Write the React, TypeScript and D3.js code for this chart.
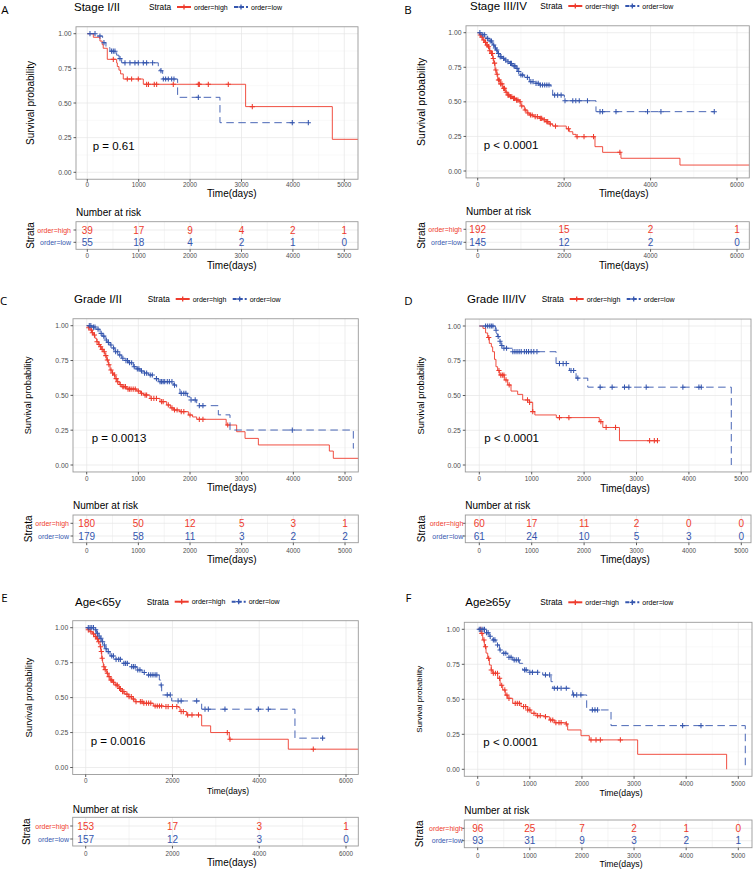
import React from "react";
import * as d3 from "d3";

const RED = "#EE3B2D";
const BLUE = "#3556AE";
const FONT = "'Liberation Sans', Arial, Helvetica, sans-serif";

type Step = [number, number];

// ---- A: Stage I/II ----
const aHighSteps: Step[] = [[0, 1], [117, 0.974], [246, 0.947], [290, 0.921], [310, 0.895], [389, 0.815], [571, 0.789], [584, 0.763], [616, 0.737], [648, 0.71], [700, 0.673], [1090, 0.635], [3080, 0.474], [4767, 0.238]];
const aHighCensor = [506, 778, 862, 992, 1154, 1190, 1303, 1349, 1673, 2160, 2180, 2354, 2743, 3210];
const aLowSteps: Step[] = [[0, 1], [182, 0.983], [298, 0.935], [363, 0.9], [440, 0.874], [571, 0.845], [616, 0.82], [668, 0.79], [1381, 0.762], [1414, 0.733], [1466, 0.673], [1757, 0.541], [2581, 0.358]];
const aLowCensor = [52, 150, 246, 324, 473, 506, 538, 636, 733, 830, 927, 992, 1090, 1154, 1271, 1433, 1479, 1524, 1576, 1641, 1686, 2160, 3988, 4300];
const aRiskTimes = [0, 1000, 2000, 3000, 4000, 5000];
const aRiskHigh = [39, 17, 9, 4, 2, 1];
const aRiskLow = [55, 18, 4, 2, 1, 0];

// ---- B: Stage III/IV ----
const bHighSteps: Step[] = [[0, 1], [40, 0.984], [80, 0.968], [116, 0.947], [160, 0.93], [200, 0.91], [231, 0.899], [270, 0.87], [300, 0.85], [347, 0.814], [370, 0.78], [401, 0.73], [430, 0.7], [463, 0.658], [520, 0.63], [578, 0.598], [640, 0.57], [694, 0.549], [750, 0.537], [810, 0.525], [880, 0.513], [964, 0.501], [1000, 0.47], [1079, 0.441], [1140, 0.42], [1195, 0.405], [1300, 0.393], [1426, 0.381], [1500, 0.37], [1581, 0.357], [1650, 0.34], [1735, 0.325], [2050, 0.305], [2120, 0.284], [2200, 0.265], [2275, 0.248], [2714, 0.176], [2891, 0.135], [3315, 0.092], [4680, 0.043]];
const bHighCensor = [60, 100, 140, 180, 220, 250, 280, 320, 340, 360, 390, 420, 450, 480, 500, 530, 560, 600, 620, 660, 700, 720, 760, 790, 830, 850, 900, 930, 980, 1020, 1100, 1160, 1220, 1260, 1330, 1380, 1450, 1480, 1540, 1600, 1620, 1680, 1800, 2100, 2300, 2460, 2680, 3290];
const bLowSteps: Step[] = [[0, 1], [100, 0.985], [193, 0.959], [260, 0.94], [347, 0.911], [390, 0.89], [424, 0.875], [460, 0.85], [501, 0.827], [560, 0.815], [617, 0.802], [680, 0.79], [732, 0.778], [800, 0.76], [887, 0.742], [930, 0.72], [964, 0.694], [1079, 0.677], [1195, 0.646], [1300, 0.634], [1426, 0.622], [1696, 0.598], [1735, 0.549], [2005, 0.508], [2737, 0.429]];
const bLowCensor = [50, 120, 160, 230, 290, 320, 370, 410, 440, 480, 520, 540, 600, 650, 700, 760, 780, 840, 860, 910, 950, 1000, 1040, 1150, 1230, 1280, 1350, 1400, 1450, 1500, 1550, 1600, 1650, 1780, 1850, 1930, 2020, 2200, 2270, 2350, 2540, 2830, 2890, 3200, 3930, 4240, 5474];
const bRiskTimes = [0, 2000, 4000, 6000];
const bRiskHigh = [192, 15, 2, 1];
const bRiskLow = [145, 12, 2, 0];

// ---- C: Grade I/II ----
const cHighSteps: Step[] = [[0, 1], [30, 0.985], [65, 0.969], [100, 0.95], [129, 0.933], [160, 0.91], [194, 0.885], [230, 0.865], [258, 0.849], [290, 0.83], [323, 0.813], [355, 0.785], [387, 0.754], [420, 0.72], [452, 0.682], [490, 0.66], [516, 0.646], [550, 0.62], [581, 0.598], [630, 0.578], [677, 0.562], [774, 0.545], [968, 0.531], [1040, 0.515], [1097, 0.502], [1226, 0.478], [1419, 0.455], [1548, 0.431], [1620, 0.41], [1677, 0.395], [1806, 0.383], [1968, 0.359], [2050, 0.345], [2129, 0.328], [2700, 0.287], [2903, 0.239], [3065, 0.191], [3323, 0.144], [4697, 0.1], [4774, 0.048]];
const cHighCensor = [40, 90, 110, 150, 200, 240, 270, 300, 340, 370, 400, 430, 470, 500, 540, 570, 600, 650, 700, 720, 750, 800, 830, 860, 900, 940, 1000, 1060, 1130, 1160, 1250, 1300, 1350, 1450, 1480, 1580, 1650, 1700, 1750, 1830, 1880, 2000, 2180, 2250, 2730];
const cLowSteps: Step[] = [[0, 1], [100, 0.99], [180, 0.975], [258, 0.945], [300, 0.925], [355, 0.897], [400, 0.88], [452, 0.861], [500, 0.84], [548, 0.813], [610, 0.79], [677, 0.766], [740, 0.75], [806, 0.734], [903, 0.706], [960, 0.69], [1032, 0.675], [1110, 0.66], [1194, 0.646], [1300, 0.62], [1387, 0.598], [1677, 0.574], [1740, 0.545], [1806, 0.514], [1950, 0.49], [2000, 0.467], [2129, 0.426], [2548, 0.36], [2774, 0.251], [5161, 0.12]];
const cLowCensor = [50, 80, 130, 160, 220, 280, 330, 380, 420, 470, 520, 560, 600, 640, 700, 760, 790, 830, 870, 920, 980, 1010, 1060, 1120, 1160, 1230, 1270, 1350, 1420, 1450, 1480, 1510, 1560, 1600, 1650, 1700, 1830, 1880, 1920, 2020, 2100, 2180, 2250, 3980];
const cRiskTimes = [0, 1000, 2000, 3000, 4000, 5000];
const cRiskHigh = [180, 50, 12, 5, 3, 1];
const cRiskLow = [179, 58, 11, 3, 2, 2];

// ---- D: Grade III/IV ----
const dHighSteps: Step[] = [[0, 1], [70, 0.983], [120, 0.95], [160, 0.917], [191, 0.875], [230, 0.85], [255, 0.815], [290, 0.76], [318, 0.707], [350, 0.68], [382, 0.647], [478, 0.612], [541, 0.576], [605, 0.532], [732, 0.508], [828, 0.468], [955, 0.451], [1019, 0.384], [1060, 0.36], [1470, 0.341], [2290, 0.312], [2357, 0.27], [2675, 0.175]];
const dHighCensor = [180, 375, 410, 440, 470, 510, 570, 920, 960, 1020, 1530, 1710, 2320, 2420, 2600, 3250, 3340, 3400];
const dLowSteps: Step[] = [[0, 1], [306, 0.97], [330, 0.945], [345, 0.925], [380, 0.89], [414, 0.86], [440, 0.84], [637, 0.815], [1465, 0.73], [1720, 0.68], [1847, 0.625], [2070, 0.56], [4809, 0]];
const dLowCensor = [120, 160, 200, 230, 260, 320, 360, 395, 430, 470, 520, 640, 680, 720, 760, 800, 860, 900, 940, 990, 1040, 1100, 1530, 1600, 1660, 1750, 1800, 1880, 2306, 2535, 2771, 2854, 3185, 3885, 4191, 4236];
const dRiskTimes = [0, 1000, 2000, 3000, 4000, 5000];
const dRiskHigh = [60, 17, 11, 2, 0, 0];
const dRiskLow = [61, 24, 10, 5, 3, 0];

// ---- E: Age<65y ----
const eHighSteps: Step[] = [[0, 1], [50, 0.985], [100, 0.971], [160, 0.955], [215, 0.936], [250, 0.92], [292, 0.9], [330, 0.864], [350, 0.83], [369, 0.781], [390, 0.75], [407, 0.721], [440, 0.7], [484, 0.674], [520, 0.65], [561, 0.626], [620, 0.61], [676, 0.59], [750, 0.565], [830, 0.543], [900, 0.525], [983, 0.507], [1060, 0.49], [1137, 0.471], [1329, 0.46], [1559, 0.44], [1790, 0.436], [2135, 0.43], [2174, 0.4], [2327, 0.376], [2673, 0.298], [2880, 0.25], [3310, 0.202], [4670, 0.131]];
const eHighCensor = [60, 120, 180, 230, 270, 300, 340, 360, 380, 420, 450, 500, 540, 580, 600, 640, 700, 730, 780, 800, 850, 880, 950, 1000, 1050, 1100, 1160, 1260, 1300, 1340, 1400, 1450, 1500, 1600, 1650, 1700, 1750, 1850, 1900, 2000, 2100, 2200, 2250, 2350, 2450, 2600, 3264, 3326, 5246];
const eLowSteps: Step[] = [[0, 1], [200, 0.985], [253, 0.96], [290, 0.94], [330, 0.924], [370, 0.9], [407, 0.876], [445, 0.85], [484, 0.829], [561, 0.798], [676, 0.774], [830, 0.745], [1022, 0.721], [1175, 0.698], [1300, 0.68], [1406, 0.662], [1697, 0.626], [1728, 0.59], [1751, 0.519], [1982, 0.476], [2673, 0.417], [4823, 0.21]];
const eLowCensor = [60, 100, 140, 180, 230, 270, 310, 350, 390, 430, 470, 520, 600, 640, 700, 760, 800, 880, 920, 960, 1060, 1100, 1140, 1200, 1250, 1350, 1450, 1500, 1550, 1600, 1640, 1740, 1880, 1950, 2130, 2200, 2558, 2750, 2826, 3210, 3979, 4209, 5461];
const eRiskTimes = [0, 2000, 4000, 6000];
const eRiskHigh = [153, 17, 3, 1];
const eRiskLow = [157, 12, 3, 0];

// ---- F: Age≥65y ----
const fHighSteps: Step[] = [[0, 1], [64, 0.971], [96, 0.924], [128, 0.876], [160, 0.83], [192, 0.793], [224, 0.745], [260, 0.71], [288, 0.686], [384, 0.65], [430, 0.6], [480, 0.567], [530, 0.53], [575, 0.507], [671, 0.471], [831, 0.448], [959, 0.424], [1023, 0.4], [1119, 0.383], [1279, 0.376], [1375, 0.352], [1471, 0.333], [1694, 0.324], [1726, 0.281], [1982, 0.24], [2142, 0.21], [3069, 0.107], [4776, 0]];
const fHighCensor = [60, 80, 120, 150, 210, 260, 300, 340, 380, 420, 460, 520, 560, 600, 720, 760, 800, 880, 920, 960, 1000, 1080, 1150, 1200, 1300, 1400, 1440, 1500, 1560, 1600, 1700, 2174, 2270, 2353, 2737];
const fLowSteps: Step[] = [[0, 1], [150, 0.976], [220, 0.95], [288, 0.924], [352, 0.888], [416, 0.852], [480, 0.829], [575, 0.8], [671, 0.781], [799, 0.757], [863, 0.71], [959, 0.693], [1247, 0.674], [1407, 0.626], [1439, 0.579], [1822, 0.531], [2091, 0.424], [2558, 0.312], [5134, 0]];
const fLowCensor = [30, 60, 100, 130, 170, 200, 240, 300, 330, 380, 430, 500, 540, 600, 640, 700, 740, 780, 900, 930, 1000, 1050, 1150, 1300, 1380, 1470, 1530, 1600, 1700, 1840, 1900, 1980, 2200, 2250, 2300, 3932, 4284];
const fRiskTimes = [0, 1000, 2000, 3000, 4000, 5000];
const fRiskHigh = [96, 25, 7, 2, 1, 0];
const fRiskLow = [93, 31, 9, 3, 2, 1];

const yTicks = [0, 0.25, 0.5, 0.75, 1];
const yMinor = [0.125, 0.375, 0.625, 0.875];

interface Curve { steps: Step[]; censor: number[]; end: number }

const panels = [
  {
    id: "a", letter: "A", lx: 5, ly: 9, title: "Stage I/II", titleX: 74, titleY: 7, legendX: 149, legendY: 7,
    left: 76, right: 358, y1: 33.7, y0: 172.3, x0: 87.3, xT: 344.3, tMax: 5000, step: 1000,
    ylabX: 30.7, ylabSize: 10, pText: "p = 0.61", pX: 92.7, pY: 145.7, tickY: 184.3, timeX: 231.7, timeY: 193.3, timeSize: 10,
    narY: 212.7, tTop: 221.7, tBot: 249.3, rowHi: 230, rowLo: 242.3, rowLabX: 71, strataX: 30, tTickY: 255.7, tTimeX: 231.7, tTimeY: 265, tTimeSize: 10,
    high: { steps: aHighSteps, censor: aHighCensor, end: 5400 }, low: { steps: aLowSteps, censor: aLowCensor, end: 4300 },
    riskTimes: aRiskTimes, riskHigh: aRiskHigh, riskLow: aRiskLow,
  },
  {
    id: "b", letter: "B", lx: 408, ly: 9, title: "Stage III/IV", titleX: 470, titleY: 5.5, legendX: 540.3, legendY: 6,
    left: 466, right: 749.3, y1: 32.7, y0: 171, x0: 477.7, xT: 737, tMax: 6000, step: 2000,
    ylabX: 421, ylabSize: 10.5, pText: "p < 0.0001", pX: 483.7, pY: 145, tickY: 184.3, timeX: 623.7, timeY: 193.3, timeSize: 10,
    narY: 211.7, tTop: 221.7, tBot: 249.3, rowHi: 229.3, rowLo: 242.3, rowLabX: 462, strataX: 421, tTickY: 255.7, tTimeX: 623.7, tTimeY: 265, tTimeSize: 10,
    high: { steps: bHighSteps, censor: bHighCensor, end: 6500 }, low: { steps: bLowSteps, censor: bLowCensor, end: 5474 },
    riskTimes: bRiskTimes, riskHigh: bRiskHigh, riskLow: bRiskLow,
  },
  {
    id: "c", letter: "C", lx: 3.5, ly: 300, title: "Grade I/II", titleX: 74, titleY: 299.3, legendX: 147.7, legendY: 299,
    left: 73, right: 358.3, y1: 325.7, y0: 465, x0: 86.7, xT: 345, tMax: 5000, step: 1000,
    ylabX: 28.3, ylabSize: 9.3, pText: "p = 0.0013", pX: 91.7, pY: 438.3, tickY: 478.3, timeX: 231.7, timeY: 487, timeSize: 10,
    narY: 505, tTop: 515, tBot: 542.7, rowHi: 523.3, rowLo: 536, rowLabX: 69, strataX: 28.3, tTickY: 550, tTimeX: 231.7, tTimeY: 559.3, tTimeSize: 10,
    high: { steps: cHighSteps, censor: cHighCensor, end: 5400 }, low: { steps: cLowSteps, censor: cLowCensor, end: 5170 },
    riskTimes: cRiskTimes, riskHigh: cRiskHigh, riskLow: cRiskLow,
  },
  {
    id: "d", letter: "D", lx: 408.5, ly: 300, title: "Grade III/IV", titleX: 467, titleY: 299, legendX: 541.7, legendY: 299,
    left: 465.3, right: 751, y1: 326, y0: 465, x0: 479.3, xT: 741.3, tMax: 5000, step: 1000,
    ylabX: 421, ylabSize: 9.3, pText: "p < 0.0001", pX: 484.3, pY: 438.3, tickY: 478.3, timeX: 625, timeY: 488.3, timeSize: 10,
    narY: 505, tTop: 515, tBot: 542.7, rowHi: 523.3, rowLo: 536, rowLabX: 463.3, strataX: 421, tTickY: 550, tTimeX: 625, tTimeY: 559.3, tTimeSize: 10,
    high: { steps: dHighSteps, censor: dHighCensor, end: 3400 }, low: { steps: dLowSteps, censor: dLowCensor, end: 4809 },
    riskTimes: dRiskTimes, riskHigh: dRiskHigh, riskLow: dRiskLow,
  },
  {
    id: "e", letter: "E", lx: 4.5, ly: 597, title: "Age<65y", titleX: 75, titleY: 601.7, legendX: 146.7, legendY: 601.7,
    left: 72.7, right: 358.3, y1: 627.7, y0: 767.5, x0: 85.7, xT: 346, tMax: 6000, step: 2000,
    ylabX: 28.3, ylabSize: 9.5, pText: "p = 0.0016", pX: 90.7, pY: 740.7, tickY: 780.7, timeX: 228, timeY: 790.7, timeSize: 8.5,
    narY: 809.3, tTop: 817.3, tBot: 846, rowHi: 826, rowLo: 839, rowLabX: 69, strataX: 26.7, tTickY: 853.3, tTimeX: 231.7, tTimeY: 862.3, tTimeSize: 10,
    high: { steps: eHighSteps, censor: eHighCensor, end: 6500 }, low: { steps: eLowSteps, censor: eLowCensor, end: 5461 },
    riskTimes: eRiskTimes, riskHigh: eRiskHigh, riskLow: eRiskLow,
  },
  {
    id: "f", letter: "F", lx: 408.5, ly: 597, title: "Age≥65y", titleX: 465.3, titleY: 601.7, legendX: 540.3, legendY: 602.3,
    left: 464.3, right: 752, y1: 629.3, y0: 769.3, x0: 477.7, xT: 738.3, tMax: 5000, step: 1000,
    ylabX: 419.3, ylabSize: 8, pText: "p < 0.0001", pX: 483.3, pY: 742.3, tickY: 783.3, timeX: 621, timeY: 793.3, timeSize: 8.7,
    narY: 810.7, tTop: 820, tBot: 847.7, rowHi: 828.3, rowLo: 840.7, rowLabX: 462.7, strataX: 419.3, tTickY: 855, tTimeX: 621, tTimeY: 864, tTimeSize: 8.7,
    high: { steps: fHighSteps, censor: fHighCensor, end: 4776 }, low: { steps: fLowSteps, censor: fLowCensor, end: 5134 },
    riskTimes: fRiskTimes, riskHigh: fRiskHigh, riskLow: fRiskLow,
  },
];

type Panel = typeof panels[number];

const survAt = (steps: Step[], t: number) => {
  const i = d3.bisector((d: Step) => d[0]).right(steps, t) - 1;
  return steps[Math.max(0, i)][1];
};

const Plus = ({ cx, cy, color, r = 2.6, w = 1.05 }: any) => (
  <path d={`M${cx - r},${cy}H${cx + r}M${cx},${cy - r}V${cy + r}`} stroke={color} strokeWidth={w} fill="none" />
);

function KM({ p }: { p: Panel }) {
  const x = d3.scaleLinear().domain([0, p.tMax]).range([p.x0, p.xT]);
  const y = d3.scaleLinear().domain([0, 1]).range([p.y0, p.y1]);
  const pad = 0.05 * (p.y0 - p.y1);
  const top = p.y1 - pad;
  const bottom = p.y0 + pad;
  const xTicks = d3.range(0, p.tMax + 1, p.step);
  const xMinor = d3.range(-p.step / 2, p.tMax + p.step, p.step).filter((t) => x(t) > p.left && x(t) < p.right);
  const line = d3.line<Step>().x((d) => x(d[0])).y((d) => y(d[1])).curve(d3.curveStepAfter);
  const clipId = `clip-${p.id}`;

  const curve = (c: Curve, color: string, dashed: boolean) => {
    const pts: Step[] = [...c.steps, [c.end, c.steps[c.steps.length - 1][1]]];
    return (
      <g>
        <path d={line(pts) || ""} fill="none" stroke={color} strokeWidth={0.9} strokeDasharray={dashed ? "7.5,4.5" : undefined} />
        {c.censor.map((t, i) => (
          <Plus key={i} cx={x(t)} cy={y(survAt(c.steps, t))} color={color} />
        ))}
      </g>
    );
  };

  const rowY = { high: p.rowHi, low: p.rowLo };
  const lg = p.legendX;

  return (
    <g fontFamily={FONT}>
      <text x={p.lx} y={p.ly} fontFamily="'Open Sans', sans-serif" fontSize={11.5} dominantBaseline="central" textAnchor="middle">{p.letter}</text>
      <text x={p.titleX} y={p.titleY} fontSize={11.5} dominantBaseline="central">{p.title}</text>
      {/* legend */}
      <text x={lg} y={p.legendY} fontSize={8.3} dominantBaseline="central">Strata</text>
      <line x1={lg + 28} x2={lg + 42} y1={p.legendY} y2={p.legendY} stroke={RED} strokeWidth={2} />
      <Plus cx={lg + 35} cy={p.legendY} color={RED} r={2.6} w={1.3} />
      <text x={lg + 45} y={p.legendY} fontSize={7} dominantBaseline="central">order=high</text>
      <line x1={lg + 85} x2={lg + 99} y1={p.legendY} y2={p.legendY} stroke={BLUE} strokeWidth={2} strokeDasharray="4,2" />
      <Plus cx={lg + 92} cy={p.legendY} color={BLUE} r={2.6} w={1.3} />
      <text x={lg + 102} y={p.legendY} fontSize={7} dominantBaseline="central">order=low</text>

      {/* survival plot */}
      <clipPath id={clipId}><rect x={p.left} y={top} width={p.right - p.left} height={bottom - top} /></clipPath>
      <rect x={p.left} y={top} width={p.right - p.left} height={bottom - top} fill="#fff" />
      {xMinor.map((t) => <line key={"xm" + t} x1={x(t)} x2={x(t)} y1={top} y2={bottom} stroke="#F2F2F2" strokeWidth={0.5} />)}
      {yMinor.map((s) => <line key={"ym" + s} x1={p.left} x2={p.right} y1={y(s)} y2={y(s)} stroke="#F2F2F2" strokeWidth={0.5} />)}
      {xTicks.map((t) => <line key={"xg" + t} x1={x(t)} x2={x(t)} y1={top} y2={bottom} stroke="#E5E5E5" strokeWidth={0.7} />)}
      {yTicks.map((s) => <line key={"yg" + s} x1={p.left} x2={p.right} y1={y(s)} y2={y(s)} stroke="#E5E5E5" strokeWidth={0.7} />)}
      <g clipPath={`url(#${clipId})`}>
        {curve(p.high, RED, false)}
        {curve(p.low, BLUE, true)}
      </g>
      <rect x={p.left} y={top} width={p.right - p.left} height={bottom - top} fill="none" stroke="#9A9A9A" strokeWidth={0.9} />
      {yTicks.map((s) => (
        <g key={"yt" + s}>
          <line x1={p.left - 2.5} x2={p.left} y1={y(s)} y2={y(s)} stroke="#333" strokeWidth={0.8} />
          <text x={p.left - 4.5} y={y(s)} fontSize={6.8} fill="#4D4D4D" textAnchor="end" dominantBaseline="central">{d3.format(".2f")(s)}</text>
        </g>
      ))}
      {xTicks.map((t) => (
        <g key={"xt" + t}>
          <line x1={x(t)} x2={x(t)} y1={bottom} y2={bottom + 2.5} stroke="#333" strokeWidth={0.8} />
          <text x={x(t)} y={p.tickY} fontSize={6.3} fill="#4D4D4D" textAnchor="middle" dominantBaseline="central">{t}</text>
        </g>
      ))}
      <text x={p.timeX} y={p.timeY} fontSize={p.timeSize} textAnchor="middle" dominantBaseline="central">Time(days)</text>
      <text transform={`translate(${p.ylabX},${(p.y0 + p.y1) / 2}) rotate(-90)`} fontSize={p.ylabSize} textAnchor="middle" dominantBaseline="central">Survival probability</text>
      <text x={p.pX} y={p.pY} fontSize={11.5} dominantBaseline="central">{p.pText}</text>

      {/* risk table */}
      <text x={p.left} y={p.narY} fontSize={10} dominantBaseline="central">Number at risk</text>
      <rect x={p.left} y={p.tTop} width={p.right - p.left} height={p.tBot - p.tTop} fill="#fff" />
      {xMinor.map((t) => <line key={"txm" + t} x1={x(t)} x2={x(t)} y1={p.tTop} y2={p.tBot} stroke="#EDEDED" strokeWidth={0.6} />)}
      {xTicks.map((t) => <line key={"txg" + t} x1={x(t)} x2={x(t)} y1={p.tTop} y2={p.tBot} stroke="#E5E5E5" strokeWidth={0.7} />)}
      {[rowY.high, rowY.low].map((ry) => <line key={"tr" + ry} x1={p.left} x2={p.right} y1={ry} y2={ry} stroke="#E5E5E5" strokeWidth={0.7} />)}
      {p.riskTimes.map((t, i) => (
        <g key={"rk" + t}>
          <text x={x(t)} y={rowY.high} fontSize={10} fill={RED} textAnchor="middle" dominantBaseline="central">{p.riskHigh[i]}</text>
          <text x={x(t)} y={rowY.low} fontSize={10} fill={BLUE} textAnchor="middle" dominantBaseline="central">{p.riskLow[i]}</text>
        </g>
      ))}
      <rect x={p.left} y={p.tTop} width={p.right - p.left} height={p.tBot - p.tTop} fill="none" stroke="#9A9A9A" strokeWidth={0.9} />
      {([["order=high", rowY.high, RED], ["order=low", rowY.low, BLUE]] as [string, number, string][]).map(([lab, ry, col]) => (
        <g key={lab}>
          <line x1={p.left - 2.5} x2={p.left} y1={ry} y2={ry} stroke="#333" strokeWidth={0.8} />
          <text x={p.rowLabX} y={ry} fontSize={7} fill={col} textAnchor="end" dominantBaseline="central">{lab}</text>
        </g>
      ))}
      {xTicks.map((t) => (
        <g key={"ttx" + t}>
          <line x1={x(t)} x2={x(t)} y1={p.tBot} y2={p.tBot + 2.5} stroke="#333" strokeWidth={0.8} />
          <text x={x(t)} y={p.tTickY} fontSize={6.3} fill="#4D4D4D" textAnchor="middle" dominantBaseline="central">{t}</text>
        </g>
      ))}
      <text x={p.tTimeX} y={p.tTimeY} fontSize={p.tTimeSize} textAnchor="middle" dominantBaseline="central">Time(days)</text>
      <text transform={`translate(${p.strataX},${(p.tTop + p.tBot) / 2}) rotate(-90)`} fontSize={10} textAnchor="middle" dominantBaseline="central">Strata</text>
    </g>
  );
}

export default function App() {
  return (
    <svg width={753} height={870} style={{ display: "block", position: "absolute", left: 0, top: 0, background: "#fff" }}>
      <rect width={753} height={870} fill="#fff" />
      {panels.map((p) => <KM key={p.id} p={p} />)}
    </svg>
  );
}
